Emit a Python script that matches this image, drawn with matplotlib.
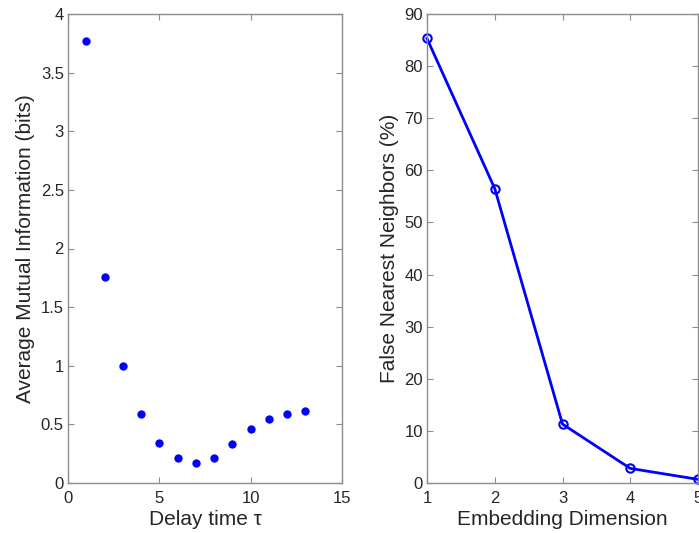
import matplotlib.pyplot as plt

plt.rcParams['font.family'] = ['Liberation Sans', 'DejaVu Sans']

delay = [1, 2, 3, 4, 5, 6, 7, 8, 9, 10, 11, 12, 13]
ami = [3.77, 1.76, 1.0, 0.59, 0.34, 0.21, 0.17, 0.21, 0.33, 0.46, 0.55, 0.59, 0.61]

dims = [1, 2, 3, 4, 5]
fnn = [85.3, 56.5, 11.3, 2.8, 0.7]

spine_col = '#8c8c8c'
text_col = '#262626'

fig = plt.figure(figsize=(6.99, 5.33), dpi=100)
ax1 = fig.add_axes([68/699, 50/533, 274/699, 469/533])
ax2 = fig.add_axes([427/699, 50/533, 271/699, 469/533])

ax1.plot(delay, ami, 'o', color='blue', markersize=6, markeredgewidth=0)
ax1.set_xlim(0, 15)
ax1.set_ylim(0, 4)
ax1.set_xticks([0, 5, 10, 15])
ax1.set_yticks([0, 0.5, 1, 1.5, 2, 2.5, 3, 3.5, 4])
ax1.set_yticklabels(['0', '0.5', '1', '1.5', '2', '2.5', '3', '3.5', '4'])
ax1.set_xlabel('Delay time τ', fontsize=15, color=text_col, labelpad=3)
ax1.set_ylabel('Average Mutual Information (bits)', fontsize=15, color=text_col, labelpad=4)

ax2.plot(dims, fnn, '-o', color='blue', linewidth=2, markersize=6,
         markerfacecolor='none', markeredgewidth=1.5, clip_on=False)
ax2.set_xlim(1, 5)
ax2.set_ylim(0, 90)
ax2.set_xticks([1, 2, 3, 4, 5])
ax2.set_yticks(range(0, 91, 10))
ax2.set_xlabel('Embedding Dimension', fontsize=15, color=text_col, labelpad=3)
ax2.set_ylabel('False Nearest Neighbors (%)', fontsize=15, color=text_col, labelpad=4)

for ax in (ax1, ax2):
    for s in ax.spines.values():
        s.set_color(spine_col)
        s.set_linewidth(1.0)
    ax.tick_params(direction='in', top=True, right=True, length=4,
                   color=spine_col, labelsize=12, labelcolor=text_col, pad=3)
    ax.tick_params(axis='x', pad=5.5)

fig.savefig('out.png', dpi=100)
